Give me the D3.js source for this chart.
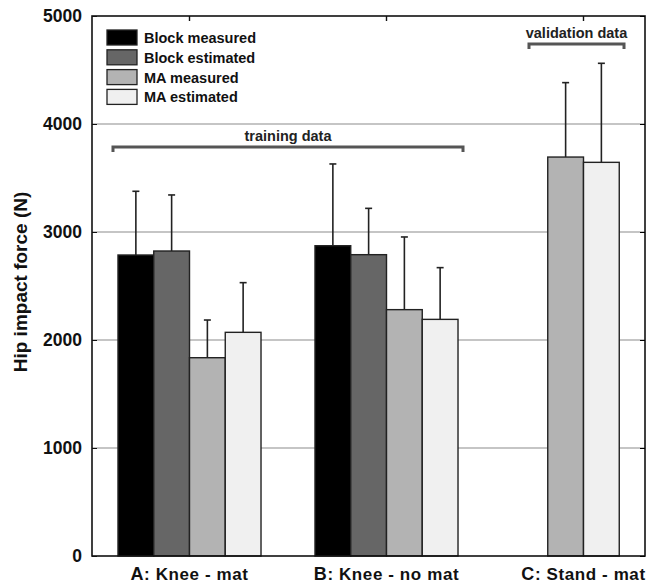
<!DOCTYPE html>
<html>
<head>
<meta charset="utf-8">
<script src="https://cdn.jsdelivr.net/npm/d3@7"></script>
<style>
  html, body { margin: 0; padding: 0; background: #fff; }
  svg { display: block; font-family: "Liberation Sans", Arial, sans-serif; }
</style>
</head>
<body>
<svg id="chart" width="646" height="586"></svg>
<script>
/* Hip impact force: measured vs estimated, grouped bars with SD */
const categories = ['A', 'B', 'C'];
const categoryNames = [': Knee - mat', ': Knee - no mat', ': Stand - mat'];
const seriesNames = ['Block measured', 'Block estimated', 'MA measured', 'MA estimated'];
const seriesColors = ['#000000', '#666666', '#b3b3b3', '#f0f0f0'];
// null = not measured for that condition
const blockMeasured = [2787, 2873, null];
const blockEstimated = [2824, 2790, null];
const maMeasured = [1836, 2281, 3694];
const maEstimated = [2071, 2191, 3645];
const blockMeasuredErr = [3377, 3630, null];
const blockEstimatedErr = [3343, 3219, null];
const maMeasuredErr = [2185, 2954, 4383];
const maEstimatedErr = [2531, 2670, 4562];
const yTicks = [0, 1000, 2000, 3000, 4000, 5000];

(function () {
  const W = 646, H = 586;
  const m = { left: 92, right: 1, top: 16, bottom: 30 };
  const svg = d3.select('#chart');
  const values = [blockMeasured, blockEstimated, maMeasured, maEstimated];
  const errs = [blockMeasuredErr, blockEstimatedErr, maMeasuredErr, maEstimatedErr];

  const y = d3.scaleLinear().domain([0, 5000]).range([H - m.bottom, m.top]);
  const x = d3.scaleBand().domain(categories).range([91, 682]).paddingInner(0.274).paddingOuter(0.137);
  const right = W - m.right;

  // gridlines
  svg.append('g').selectAll('line').data(yTicks.slice(1, -1)).join('line')
    .attr('x1', m.left).attr('x2', right)
    .attr('y1', (d) => y(d)).attr('y2', (d) => y(d))
    .attr('stroke', '#8c8c8c').attr('stroke-width', 1.2);

  // bars
  const barW = x.bandwidth() / seriesNames.length;
  const rows = [];
  categories.forEach((c, ci) => {
    const present = seriesNames.map((s, si) => si).filter((si) => values[si][ci] != null);
    const sub = d3.scaleBand().domain(present)
      .range([0, barW * present.length]);
    const off = x(c) + (x.bandwidth() - barW * present.length) / 2;
    present.forEach((si) => {
      rows.push({ ci, si, x0: off + sub(si), w: sub.bandwidth(), v: values[si][ci], e: errs[si][ci] });
    });
  });

  const eg = svg.append('g').attr('stroke', '#222').attr('stroke-width', 1.6);
  rows.forEach((r) => {
    const cx = r.x0 + r.w / 2;
    eg.append('line').attr('x1', cx).attr('x2', cx).attr('y1', y(r.v)).attr('y2', y(r.e));
    eg.append('line').attr('x1', cx - 3.5).attr('x2', cx + 3.5).attr('y1', y(r.e)).attr('y2', y(r.e));
  });

  svg.append('g').selectAll('rect').data(rows).join('rect')
    .attr('x', (d) => d.x0).attr('width', (d) => d.w)
    .attr('y', (d) => y(d.v)).attr('height', (d) => y(0) - y(d.v))
    .attr('fill', (d) => seriesColors[d.si])
    .attr('stroke', '#222').attr('stroke-width', 1.4);

  // frame + axes
  svg.append('rect').attr('x', m.left).attr('y', m.top)
    .attr('width', right - m.left).attr('height', y(0) - m.top)
    .attr('fill', 'none').attr('stroke', '#111').attr('stroke-width', 1.6);

  const left = svg.append('g').attr('transform', `translate(${m.left},0)`)
    .call(d3.axisLeft(y).tickValues(yTicks).tickSize(-5).tickPadding(10).tickFormat(d3.format('d')));
  left.select('.domain').remove();
  left.selectAll('text').attr('font-size', 17.5).attr('font-weight', 'bold').attr('fill', '#111');
  left.selectAll('.tick line').attr('stroke', '#111');

  const rAx = svg.append('g').attr('transform', `translate(${right},0)`)
    .call(d3.axisRight(y).tickValues(yTicks).tickSize(-5).tickFormat(''));
  rAx.select('.domain').remove();

  const center = (c) => x(c) + x.bandwidth() / 2;
  svg.append('g').selectAll('line').data(categories).join('line')
    .attr('x1', center).attr('x2', center)
    .attr('y1', m.top).attr('y2', m.top + 5).attr('stroke', '#111').attr('stroke-width', 1.4);

  // category labels
  const lab = svg.append('g').selectAll('text').data(categories).join('text')
    .attr('x', center).attr('y', H - 6)
    .attr('text-anchor', 'middle').attr('font-size', 17).attr('font-weight', 'bold')
    .attr('letter-spacing', 0.6).attr('fill', '#111');
  lab.append('tspan').attr('font-size', 18).text((d) => d);
  lab.append('tspan').text((d, i) => categoryNames[i].replace(':', ': ').replace(':  ', ': '));

  // y title
  svg.append('text')
    .attr('transform', 'translate(27,282) rotate(-90)')
    .attr('text-anchor', 'middle').attr('font-size', 19).attr('font-weight', 'bold')
    .attr('fill', '#111').text('Hip impact force (N)');

  // brackets
  function bracket(x1, x2, yy, label) {
    const g = svg.append('g');
    g.append('path')
      .attr('d', `M${x1},${yy + 5}V${yy}H${x2}V${yy + 5}`)
      .attr('fill', 'none').attr('stroke', '#555').attr('stroke-width', 3);
    g.append('text').attr('x', (x1 + x2) / 2).attr('y', yy - 6)
      .attr('text-anchor', 'middle').attr('font-size', 14.5).attr('font-weight', 'bold')
      .attr('fill', '#222').text(label);
  }
  bracket(x('A') - 5, x('B') + x.bandwidth() + 5, 147, 'training data');
  bracket(x('C') + 17, x('C') + x.bandwidth() - 31, 44, 'validation data');

  // legend
  const lg = svg.append('g').attr('transform', 'translate(107,30)');
  seriesNames.forEach((s, i) => {
    lg.append('rect').attr('x', 0).attr('y', i * 19.8).attr('width', 30).attr('height', 15)
      .attr('fill', seriesColors[i]).attr('stroke', '#222').attr('stroke-width', 1.3);
    lg.append('text').attr('x', 37).attr('y', i * 19.8 + 13)
      .attr('font-size', 14.5).attr('font-weight', 'bold').attr('fill', '#111').text(s);
  });
})();
</script>
</body>
</html>
